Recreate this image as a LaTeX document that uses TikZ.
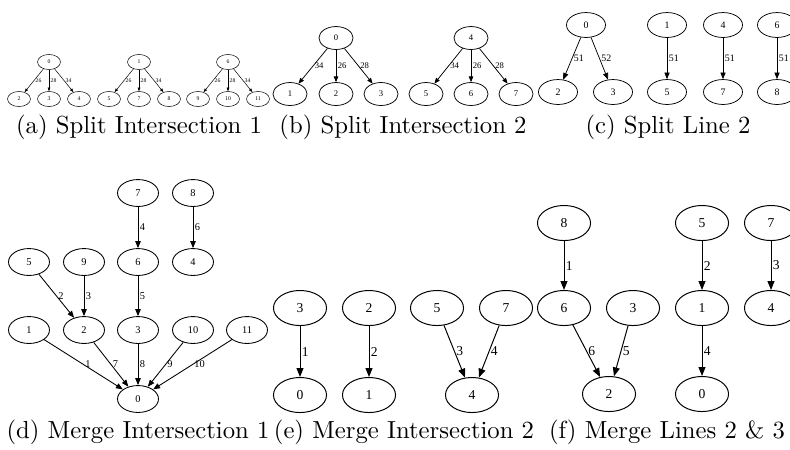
\documentclass[tikz,border=0pt]{standalone}
\usepackage{fontspec}
\newfontfamily\gvfont{Liberation Serif}
\usetikzlibrary{positioning,arrows.meta,calc,shapes.geometric}

\begin{document}
\begin{tikzpicture}[
  x=0.405pt, y=-0.405pt,
  va/.style ={draw, ellipse, line width=0.2pt, inner sep=0pt, minimum width=9.3pt, minimum height=6.1pt, font=\gvfont\fontsize{2.3}{3}\selectfont},
  vb/.style ={draw, ellipse, line width=0.3pt, inner sep=0pt, minimum width=13.8pt, minimum height=9.3pt, font=\gvfont\fontsize{3.5}{4}\selectfont},
  vc/.style ={draw, ellipse, line width=0.3pt, inner sep=0pt, minimum width=15.8pt, minimum height=10.1pt, font=\gvfont\fontsize{4}{4.5}\selectfont},
  vd/.style ={draw, ellipse, line width=0.35pt, inner sep=0pt, minimum width=16.6pt, minimum height=10.9pt, font=\gvfont\fontsize{4.2}{5}\selectfont},
  ve/.style ={draw, ellipse, line width=0.4pt, inner sep=0pt, minimum width=21.5pt, minimum height=14.2pt, font=\gvfont\fontsize{5.5}{6}\selectfont},
  ea/.style ={-{Triangle[length=1.5pt,width=1.1pt]}, line width=0.2pt},
  eb/.style ={-{Triangle[length=2.3pt,width=1.8pt]}, line width=0.3pt},
  ec/.style ={-{Triangle[length=2.7pt,width=2.1pt]}, line width=0.3pt},
  ed/.style ={-{Triangle[length=2.8pt,width=2.2pt]}, line width=0.35pt},
  ee/.style ={-{Triangle[length=3.6pt,width=2.8pt]}, line width=0.4pt},
  lbl/.style={right, inner sep=0.6pt},
  subcap/.style={anchor=base, inner sep=0pt, font=\normalsize},
]
\useasboundingbox (0,0) rectangle (790,449);

% (a) split intersection 1
\node[va] (a0) at (49,62) {0};
\node[va] (a2) at (19,99) {2};
\node[va] (a3) at (49,99) {3};
\node[va] (a4) at (79,99) {4};
\node[va] (a1) at (139,62) {1};
\node[va] (a5) at (109,99) {5};
\node[va] (a7) at (139,99) {7};
\node[va] (a8) at (169,99) {8};
\node[va] (a6) at (228,62) {6};
\node[va] (a9) at (198,99) {9};
\node[va] (a10) at (228,99) {10};
\node[va] (a11) at (258,99) {11};
\draw[ea] (a0) -- node[lbl, font=\gvfont\fontsize{2.3}{3}\selectfont] {26} (a2);
\draw[ea] (a0) -- node[lbl, font=\gvfont\fontsize{2.3}{3}\selectfont] {28} (a3);
\draw[ea] (a0) -- node[lbl, font=\gvfont\fontsize{2.3}{3}\selectfont] {34} (a4);
\draw[ea] (a1) -- node[lbl, font=\gvfont\fontsize{2.3}{3}\selectfont] {26} (a5);
\draw[ea] (a1) -- node[lbl, font=\gvfont\fontsize{2.3}{3}\selectfont] {28} (a7);
\draw[ea] (a1) -- node[lbl, font=\gvfont\fontsize{2.3}{3}\selectfont] {34} (a8);
\draw[ea] (a6) -- node[lbl, font=\gvfont\fontsize{2.3}{3}\selectfont] {26} (a9);
\draw[ea] (a6) -- node[lbl, font=\gvfont\fontsize{2.3}{3}\selectfont] {28} (a10);
\draw[ea] (a6) -- node[lbl, font=\gvfont\fontsize{2.3}{3}\selectfont] {34} (a11);

% (b) split intersection 2
\node[vb] (b0) at (336,38) {0};
\node[vb] (b1) at (290,94) {1};
\node[vb] (b2) at (336,94) {2};
\node[vb] (b3) at (381,94) {3};
\node[vb] (b4) at (471,38) {4};
\node[vb] (b5) at (426,94) {5};
\node[vb] (b6) at (471,94) {6};
\node[vb] (b7) at (516,94) {7};
\draw[eb] (b0) -- node[lbl, font=\gvfont\fontsize{3.5}{4}\selectfont] {34} (b1);
\draw[eb] (b0) -- node[lbl, font=\gvfont\fontsize{3.5}{4}\selectfont] {26} (b2);
\draw[eb] (b0) -- node[lbl, font=\gvfont\fontsize{3.5}{4}\selectfont] {28} (b3);
\draw[eb] (b4) -- node[lbl, font=\gvfont\fontsize{3.5}{4}\selectfont] {34} (b5);
\draw[eb] (b4) -- node[lbl, font=\gvfont\fontsize{3.5}{4}\selectfont] {26} (b6);
\draw[eb] (b4) -- node[lbl, font=\gvfont\fontsize{3.5}{4}\selectfont] {28} (b7);

% (c) split line 2
\node[vc] (c0) at (586,25) {0};
\node[vc] (c2) at (558,92) {2};
\node[vc] (c3) at (613,92) {3};
\node[vc] (c1) at (667,25) {1};
\node[vc] (c5) at (667,92) {5};
\node[vc] (c4) at (723,25) {4};
\node[vc] (c7) at (723,92) {7};
\node[vc] (c6) at (777,25) {6};
\node[vc] (c8) at (777,92) {8};
\draw[ec] (c0) -- node[lbl, font=\gvfont\fontsize{4}{4.5}\selectfont] {51} (c2);
\draw[ec] (c0) -- node[lbl, font=\gvfont\fontsize{4}{4.5}\selectfont] {52} (c3);
\draw[ec] (c1) -- node[lbl, font=\gvfont\fontsize{4}{4.5}\selectfont] {51} (c5);
\draw[ec] (c4) -- node[lbl, font=\gvfont\fontsize{4}{4.5}\selectfont] {51} (c7);
\draw[ec] (c6) -- node[lbl, font=\gvfont\fontsize{4}{4.5}\selectfont] {51} (c8);

% (d) merge intersection 1
\node[vd] (d7) at (138,193) {7};
\node[vd] (d8) at (193,193) {8};
\node[vd] (d5) at (29,262) {5};
\node[vd] (d9) at (84,262) {9};
\node[vd] (d6) at (138,262) {6};
\node[vd] (d4) at (193,262) {4};
\node[vd] (d1) at (29,330) {1};
\node[vd] (d2) at (84,330) {2};
\node[vd] (d3) at (138,330) {3};
\node[vd] (d10) at (193,330) {10};
\node[vd] (d11) at (247,330) {11};
\node[vd] (d0) at (138,399) {0};
\draw[ed] (d7) -- node[lbl, font=\gvfont\fontsize{4.2}{5}\selectfont] {4} (d6);
\draw[ed] (d8) -- node[lbl, font=\gvfont\fontsize{4.2}{5}\selectfont] {6} (d4);
\draw[ed] (d5) -- node[lbl, font=\gvfont\fontsize{4.2}{5}\selectfont] {2} (d2);
\draw[ed] (d9) -- node[lbl, font=\gvfont\fontsize{4.2}{5}\selectfont] {3} (d2);
\draw[ed] (d6) -- node[lbl, font=\gvfont\fontsize{4.2}{5}\selectfont] {5} (d3);
\draw[ed] (d1) -- node[lbl, font=\gvfont\fontsize{4.2}{5}\selectfont] {1} (d0);
\draw[ed] (d2) -- node[lbl, font=\gvfont\fontsize{4.2}{5}\selectfont] {7} (d0);
\draw[ed] (d3) -- node[lbl, font=\gvfont\fontsize{4.2}{5}\selectfont] {8} (d0);
\draw[ed] (d10) -- node[lbl, font=\gvfont\fontsize{4.2}{5}\selectfont] {9} (d0);
\draw[ed] (d11) -- node[lbl, font=\gvfont\fontsize{4.2}{5}\selectfont] {10} (d0);

% (e) merge intersection 2
\node[ve] (e3) at (300,308) {3};
\node[ve] (e2) at (369,308) {2};
\node[ve] (e5) at (437,308) {5};
\node[ve] (e7) at (506,308) {7};
\node[ve] (e0) at (300,395) {0};
\node[ve] (e1) at (369,395) {1};
\node[ve] (e4) at (472,395) {4};
\draw[ee] (e3) -- node[lbl, font=\gvfont\fontsize{5.5}{6}\selectfont] {1} (e0);
\draw[ee] (e2) -- node[lbl, font=\gvfont\fontsize{5.5}{6}\selectfont] {2} (e1);
\draw[ee] (e5) -- node[lbl, font=\gvfont\fontsize{5.5}{6}\selectfont] {3} (e4);
\draw[ee] (e7) -- node[lbl, font=\gvfont\fontsize{5.5}{6}\selectfont] {4} (e4);

% (f) merge lines 2 & 3
\node[ve] (f8) at (564,223) {8};
\node[ve] (f6) at (564,308) {6};
\node[ve] (f3) at (633,308) {3};
\node[ve] (f2) at (609,394) {2};
\node[ve] (f5) at (702,223) {5};
\node[ve] (f1) at (702,308) {1};
\node[ve] (f0) at (702,394) {0};
\node[ve] (f7) at (771,223) {7};
\node[ve] (f4) at (771,308) {4};
\draw[ee] (f8) -- node[lbl, font=\gvfont\fontsize{5.5}{6}\selectfont] {1} (f6);
\draw[ee] (f6) -- node[lbl, font=\gvfont\fontsize{5.5}{6}\selectfont] {6} (f2);
\draw[ee] (f3) -- node[lbl, font=\gvfont\fontsize{5.5}{6}\selectfont] {5} (f2);
\draw[ee] (f5) -- node[lbl, font=\gvfont\fontsize{5.5}{6}\selectfont] {2} (f1);
\draw[ee] (f1) -- node[lbl, font=\gvfont\fontsize{5.5}{6}\selectfont] {4} (f0);
\draw[ee] (f7) -- node[lbl, font=\gvfont\fontsize{5.5}{6}\selectfont] {3} (f4);

% captions
\node[subcap] (capa) at (139,133) {(a) Split Intersection 1};
\node[subcap] (capb) at (403,133) {(b) Split Intersection 2};
\node[subcap] (capc) at (668,133) {(c) Split Line 2};
\node[subcap] (capd) at (138,438) {(d) Merge Intersection 1};
\node[subcap] (cape) at (404,438) {(e) Merge Intersection 2};
\node[subcap] (capf) at (667,438) {(f) Merge Lines 2 \& 3};
\end{tikzpicture}
\end{document}
